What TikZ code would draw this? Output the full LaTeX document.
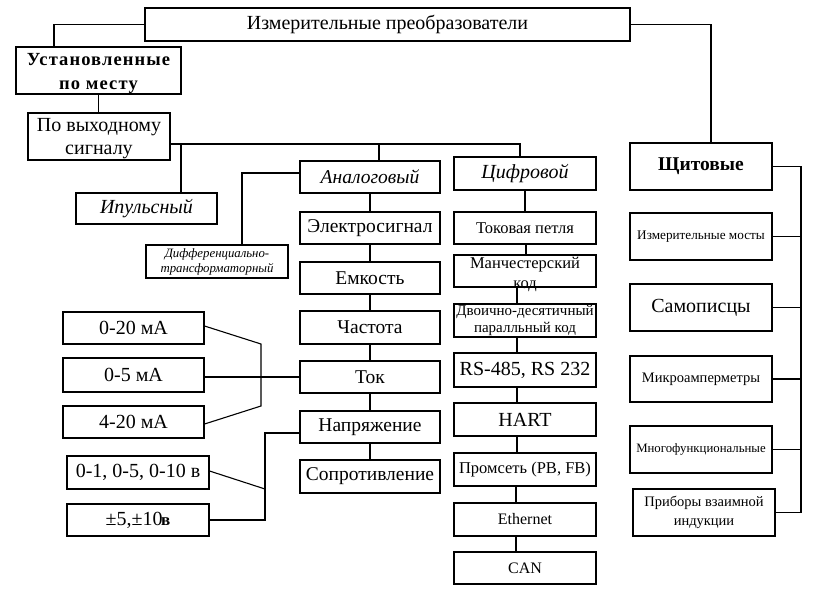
\documentclass[tikz,border=0pt]{standalone}
\usepackage{fontspec}
\setmainfont{Liberation Serif}
\newcommand\fsz[2]{\fontsize{#1}{#2}\selectfont}
\begin{document}
\begin{tikzpicture}[x=1pt,y=-1pt,
  bx/.style 2 args={draw, line width=1.1pt, inner sep=0pt, align=center, minimum width=#1, minimum height=#2},
  lbl/.style={inner sep=0pt, align=center},
  ln/.style={line width=1.1pt}]
\useasboundingbox[fill=white] (0,0) rectangle (822,603);
% top
\node[bx={485}{33}, font=\fsz{20}{22}] (top) at (387.5,24.5) {\raisebox{-1.5pt}{Измерительные преобразователи}};
\node[bx={165}{47}] (ust) at (98.5,70.5) {};
\node[lbl, font=\fsz{18.5}{24}\bfseries\addfontfeature{LetterSpace=6}] (ustT) at (98.5,73) {Установленные\\по месту};
\node[bx={142}{47}] (vyh) at (99,136.5) {};
\node[lbl, font=\fsz{20}{23}] (vyhT) at (99,138.5) {По выходному\\сигналу};
\node[bx={141}{31}, font=\fsz{20}{22}\itshape] (imp) at (146.5,208.5) {Ипульсный};
\node[bx={142}{33}, font=\fsz{12.8}{15}\itshape] (diff) at (217,261.5) {Дифференциально-\\трансформаторный};
% analog column
\node[bx={140}{32}, font=\fsz{19.5}{22}\itshape] (anal) at (370,177) {Аналоговый};
\node[bx={140}{32}, font=\fsz{19.5}{22}] (elec) at (370,228) {Электросигнал};
\node[bx={140}{32}, font=\fsz{19.5}{22}] (emk) at (370,278) {Емкость};
\node[bx={140}{33}, font=\fsz{19.5}{22}] (chast) at (370,327.5) {Частота};
\node[bx={140}{32}, font=\fsz{19.5}{22}] (tok) at (370,377) {Ток};
\node[bx={140}{32}, font=\fsz{19.5}{22}] (napr) at (370,427) {Напряжение};
\node[bx={140}{33}, font=\fsz{19.5}{22}] (sopr) at (370,476.5) {Сопротивление};
% current ranges
\node[bx={141}{32}, font=\fsz{20}{22}] (ma020) at (133.5,328) {0-20 мА};
\node[bx={141}{34}, font=\fsz{20}{22}] (ma05) at (133.5,375) {0-5 мА};
\node[bx={141}{32}, font=\fsz{20}{22}] (ma420) at (133.5,422) {4-20 мА};
% voltage ranges
\node[bx={142}{33}, font=\fsz{20}{22}] (v010) at (138,472.5) {0-1, 0-5, 0-10 в};
\node[bx={142}{32}, font=\fsz{20}{22}] (v510) at (138,520) {±5,±10\kern-1.5pt{\fsz{17}{20}\bfseries в}};
% digital column
\node[bx={142}{33}, font=\fsz{20}{22}\itshape] (cifr) at (525,173.5) {Цифровой};
\node[bx={142}{32}, font=\fsz{16.5}{20}] (tokp) at (525,228) {Токовая петля};
\node[bx={142}{32}] (manch) at (525,271) {};
\node[lbl, font=\fsz{16.5}{20}] (manchT) at (525,274) {Манчестерский\\код};
\node[bx={142}{33}, font=\fsz{15}{16.5}] (dvo) at (525,320.5) {Двоично-десятичный\\паралльный код};
\node[bx={142}{34}, font=\fsz{20}{22}] (rs) at (525,370) {RS-485, RS 232};
\node[bx={142}{33}, font=\fsz{20}{22}] (hart) at (525,419.5) {HART};
\node[bx={142}{33}, font=\fsz{16.5}{20}] (prom) at (525,469.5) {Промсеть (PB, FB)};
\node[bx={142}{33}, font=\fsz{16}{20}] (eth) at (525,519.5) {Ethernet};
\node[bx={142}{32}, font=\fsz{16}{20}] (can) at (525,568) {CAN};
% panel column
\node[bx={142}{47}, font=\fsz{19.5}{22}\bfseries] (shch) at (701,166.5) {Щитовые};
\node[bx={142}{47}, font=\fsz{13.2}{16}] (most) at (701,236.5) {Измерительные мосты};
\node[bx={142}{47}, font=\fsz{20}{22}] (samo) at (701,307.5) {Самописцы};
\node[bx={142}{46}, font=\fsz{14.5}{18}] (mikro) at (701,379) {Микроамперметры};
\node[bx={142}{47}, font=\fsz{12.8}{16}] (mnogo) at (701,449.5) {Многофункциональные};
\node[bx={142}{47}, font=\fsz{14.5}{19}] (prib) at (704,512.5) {Приборы взаимной\\индукции};
% junction coordinates
\coordinate (j1) at (181,144);
\coordinate (j2) at (379,144);
\coordinate (c1) at (261,344);
\coordinate (c2) at (261,406);
\coordinate (c3) at (265,433);
\coordinate (c4) at (265,520);
\coordinate (c5) at (265,489);
\coordinate (r2) at (801,512.5);
% connectors
\draw[ln] (top.west) -| ([xshift=-44.5pt]ust.north);
\draw[ln] (top.east) -| ([xshift=10pt]shch.north);
\draw[ln] (ust.south) -- (ust.south |- vyh.north);
\draw[ln] ([yshift=-7.5pt]vyh.east) -| ([xshift=-5pt]cifr.north);
\draw[ln] (j1) -- (j1 |- imp.north);
\draw[ln] (j2) -- (j2 |- anal.north);
\draw[ln] ([yshift=4pt]anal.west) -| ([xshift=25pt]diff.north);
\draw[ln] (anal.south) -- (elec.north);
\draw[ln] (elec.south) -- (emk.north);
\draw[ln] (emk.south) -- (chast.north);
\draw[ln] (chast.south) -- (tok.north);
\draw[ln] (tok.south) -- (napr.north);
\draw[ln] (napr.south) -- (sopr.north);
\draw[ln] ([yshift=2pt]ma020.east) -- (c1) -- (c2) -- ([yshift=-2pt]ma420.east);
\draw[ln] (tok.west) -- (tok.west -| ma05.east);
\draw[ln] ([yshift=-6pt]napr.west) -- (c3) -- (c4) -- (v510.east);
\draw[ln] ([yshift=1.5pt]v010.east) -- (c5);
\draw[ln] (cifr.south) -- (tokp.north);
\draw[ln] ([xshift=1pt]tokp.south) -- ([xshift=1pt]manch.north);
\draw[ln] ([xshift=-8pt]manch.south) -- ([xshift=-8pt]dvo.north);
\draw[ln] ([xshift=-8pt]dvo.south) -- ([xshift=-8pt]rs.north);
\draw[ln] ([xshift=-8pt]rs.south) -- ([xshift=-8pt]hart.north);
\draw[ln] ([xshift=-8pt]hart.south) -- ([xshift=-8pt]prom.north);
\draw[ln] ([xshift=-9pt]prom.south) -- ([xshift=-9pt]eth.north);
\draw[ln] ([xshift=-9pt]eth.south) -- ([xshift=-9pt]can.north);
\draw[ln] (shch.east) -| (r2) -- (prib.east);
\draw[ln] (most.east) -- (most.east -| r2);
\draw[ln] (samo.east) -- (samo.east -| r2);
\draw[ln] (mikro.east) -- (mikro.east -| r2);
\draw[ln] (mnogo.east) -- (mnogo.east -| r2);
\end{tikzpicture}
\end{document}
